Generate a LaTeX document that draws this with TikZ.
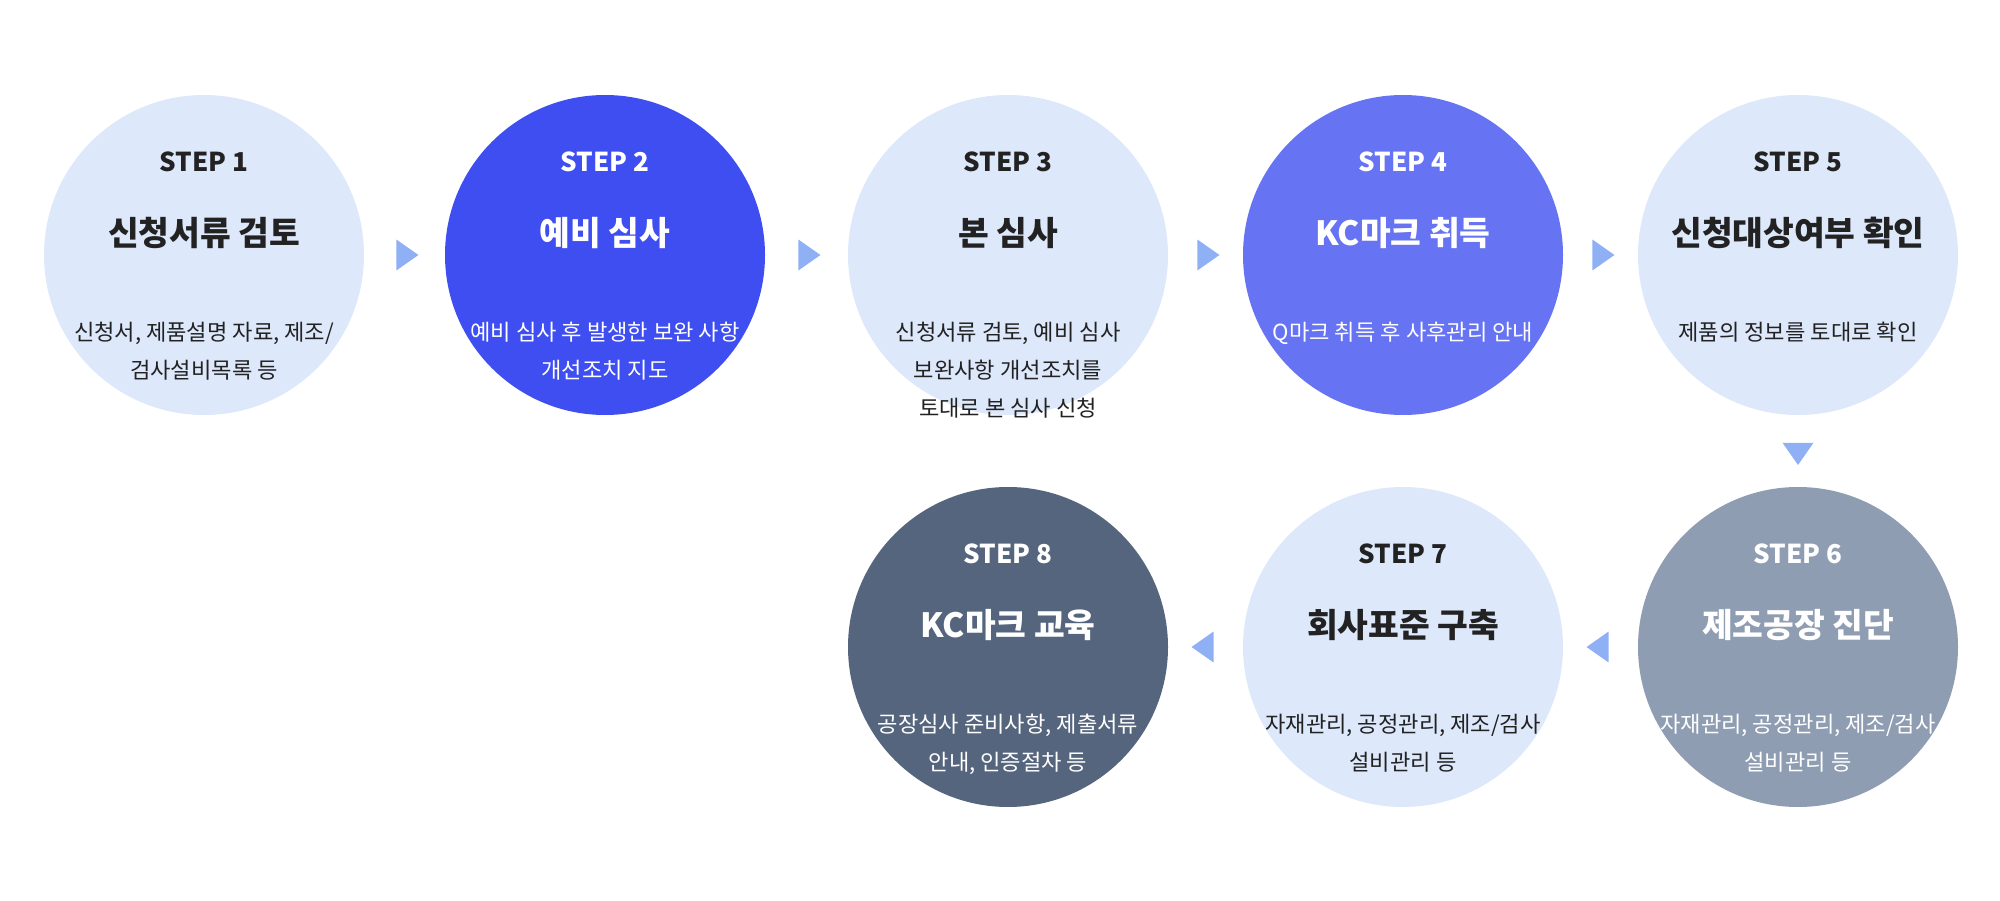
\documentclass[tikz,border=0pt]{standalone}
\usepackage{fontspec}
\setmainfont{Noto Sans CJK KR}
\usetikzlibrary{positioning, shapes.geometric, calc}

\definecolor{lightstep}{HTML}{DDE8FB}
\definecolor{bluestep}{HTML}{3F4EF0}
\definecolor{violetstep}{HTML}{6673F2}
\definecolor{graystep}{HTML}{8F9DB3}
\definecolor{darkstep}{HTML}{55657D}
\definecolor{arrowblue}{HTML}{8FB0F5}
\definecolor{textdark}{HTML}{222222}

\tikzset{
  stepdisc/.style={circle, minimum size=3.2cm, inner sep=0pt},
  lightcircle/.style={stepdisc, fill=lightstep},
  steplabel/.style={font=\bfseries\fontsize{7.4}{9}\selectfont},
  title/.style={font=\bfseries\fontsize{9.5}{11}\selectfont},
  desc/.style={align=center, font=\fontsize{6.3}{10.8}\selectfont},
  pointer/.style={isosceles triangle, isosceles triangle apex angle=70,
    fill=arrowblue, minimum height=0.22cm, inner sep=0pt}
}

\newcommand{\stepcircle}[6]{%
  % name, position, fill style, text colour, step, title
  \node [#3] (#1) at (#2) {};
  \node [steplabel, text=#4] at ($(#1.center)+(0,0.93)$) {STEP #5};
  \node [title, text=#4] at ($(#1.center)+(0,0.22)$) {#6};
}

\begin{document}
\begin{tikzpicture}
  \useasboundingbox (0,0) rectangle (20,9);

  % Upper row
  \stepcircle{s1}{2.04,6.45}{lightcircle}{textdark}{1}{신청서류 검토}
  \node [desc, text=textdark, below=0.55cm of s1.center] {신청서, 제품설명 자료, 제조/\\검사설비목록 등};

  \stepcircle{s2}{6.05,6.45}{stepdisc, fill=bluestep}{white}{2}{예비 심사}
  \node [desc, text=white, below=0.55cm of s2.center] {예비 심사 후 발생한 보완 사항\\개선조치 지도};

  \stepcircle{s3}{10.08,6.45}{lightcircle}{textdark}{3}{본 심사}
  \node [desc, text=textdark, below=0.55cm of s3.center] {신청서류 검토, 예비 심사\\보완사항 개선조치를\\토대로 본 심사 신청};

  \stepcircle{s4}{14.03,6.45}{stepdisc, fill=violetstep}{white}{4}{KC마크 취득}
  \node [desc, text=white, below=0.55cm of s4.center] {Q마크 취득 후 사후관리 안내};

  \stepcircle{s5}{17.98,6.45}{lightcircle}{textdark}{5}{신청대상여부 확인}
  \node [desc, text=textdark, below=0.55cm of s5.center] {제품의 정보를 토대로 확인};

  % Lower row
  \stepcircle{s6}{17.98,2.53}{stepdisc, fill=graystep}{white}{6}{제조공장 진단}
  \node [desc, text=white, below=0.55cm of s6.center] {자재관리, 공정관리, 제조/검사\\설비관리 등};

  \stepcircle{s7}{14.03,2.53}{lightcircle}{textdark}{7}{회사표준 구축}
  \node [desc, text=textdark, below=0.55cm of s7.center] {자재관리, 공정관리, 제조/검사\\설비관리 등};

  \stepcircle{s8}{10.08,2.53}{stepdisc, fill=darkstep}{white}{8}{KC마크 교육}
  \node [desc, text=white, below=0.55cm of s8.center] {공장심사 준비사항, 제출서류\\안내, 인증절차 등};

  % Pointers between steps
  \node [pointer] (p12) at ($(s1.east)!0.5!(s2.west)$) {};
  \node [pointer] (p23) at ($(s2.east)!0.5!(s3.west)$) {};
  \node [pointer] (p34) at ($(s3.east)!0.5!(s4.west)$) {};
  \node [pointer] (p45) at ($(s4.east)!0.5!(s5.west)$) {};
  \node [pointer, rotate=-90] (p56) at ($(s5.south)!0.5!(s6.north)$) {};
  \node [pointer, rotate=180] (p67) at ($(s6.west)!0.5!(s7.east)$) {};
  \node [pointer, rotate=180] (p78) at ($(s7.west)!0.5!(s8.east)$) {};
\end{tikzpicture}
\end{document}
